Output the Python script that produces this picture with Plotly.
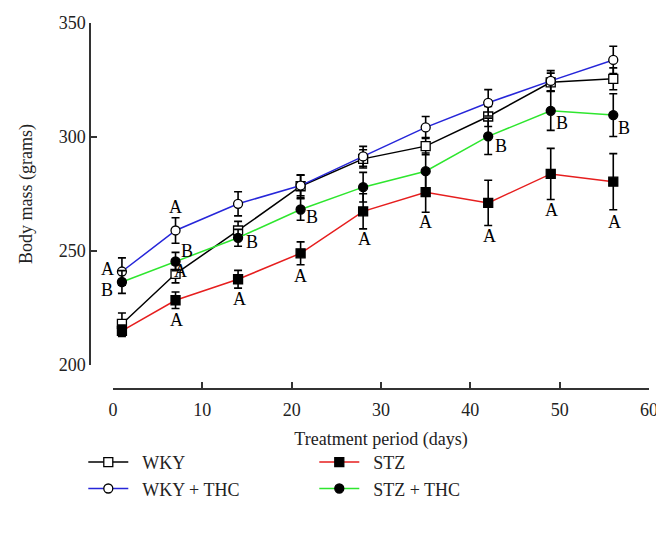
import plotly.graph_objects as go

# ---- data ----
days = [1, 7, 14, 21, 28, 35, 42, 49, 56]

wky = [218, 240, 259, 278.4, 290.4, 296, 309, 324, 325.5]
wky_err = [4.8, 4, 4, 5, 4, 3.8, 4.4, 4, 4.8]

wky_thc = [241, 259, 270.7, 278.7, 291.5, 304.2, 315, 324.6, 333.8]
wky_thc_err = [6, 5.6, 5.3, 4.5, 4.4, 4.8, 5.8, 4.5, 6]

stz = [215, 228.4, 237.6, 249, 267.4, 275.8, 271.1, 283.8, 280.4]
stz_err = [2.5, 3.6, 3.9, 5, 7.7, 8.8, 9.9, 11.2, 12.3]

stz_thc = [236.4, 245.4, 255.8, 268.2, 278, 285, 300.3, 311.5, 309.6]
stz_thc_err = [5, 4, 3.7, 4.7, 6.5, 8, 8, 8.6, 9.4]

series_names = ["WKY", "WKY + THC", "STZ", "STZ + THC"]

x_ticks = [0, 10, 20, 30, 40, 50, 60]
y_ticks = [200, 250, 300, 350]

# significance letters: (series index, day index, letter)
letter_series = [1, 3, 1, 0, 3, 2, 3, 2, 3, 2, 2, 2, 3, 2, 3, 2, 3, 2]
letter_day_idx = [0, 0, 1, 1, 1, 1, 2, 2, 3, 3, 4, 5, 6, 6, 7, 7, 8, 8]
letter_text = ["A", "B", "A", "A", "B", "A", "B", "A", "B", "A", "A", "A", "B", "A", "B", "A", "B", "A"]

# ---- styling / placement ----
letter_dx = [-14, -15, 0, 5, 11, 1, 14, 1, 11, 0, 1, 0, 13, 1, 11, 1, 11, 1]
letter_dy = [3, -8, 23, 3, 10, -20, -4, -20, -7, -23, -28, -30, -10, -33, -12, -36, -13, -40]

FONT = "Liberation Serif, Times New Roman, serif"
vals = [wky, wky_thc, stz, stz_thc]
errs = [wky_err, wky_thc_err, stz_err, stz_thc_err]
line_colors = ["#000000", "#2626d9", "#e61e1e", "#2ee62e"]
symbols = ["square", "circle", "square", "circle"]
fills = ["white", "white", "black", "black"]
ranks = [1, 3, 2, 4]

fig = go.Figure()
for i in range(4):
    fig.add_trace(go.Scatter(
        x=days, y=vals[i], name="\u00a0\u00a0" + series_names[i], mode="lines+markers",
        line=dict(color=line_colors[i], width=1.5),
        marker=dict(symbol=symbols[i], size=9,
                    color=fills[i], line=dict(color="black", width=1.3)),
        error_y=dict(type="data", array=errs[i], visible=True,
                     color="black", thickness=1.6, width=4),
        legendrank=ranks[i],
        cliponaxis=False,
    ))

for s, d, t, dx, dy in zip(letter_series, letter_day_idx, letter_text, letter_dx, letter_dy):
    fig.add_annotation(x=days[d], y=vals[s][d], text=t, showarrow=False,
                       xshift=dx, yshift=dy, xanchor="center", yanchor="middle",
                       font=dict(family=FONT, size=18, color="black"))

OFF = 8  # page body margin in the browser
W, H = 664 - OFF, 537 - OFF
L, R, T, B = 90 - OFF, 23 - OFF, 23 - OFF, 148
pw = W - L - R
ph = H - T - B
x0_px = 113 - OFF
y200_px = 365 - OFF

fig.update_layout(
    width=W, height=H,
    margin=dict(l=L, r=R, t=T, b=B, autoexpand=False),
    paper_bgcolor="white", plot_bgcolor="white",
    font=dict(family=FONT, size=17, color="#222"),
    showlegend=True,
    legend=dict(orientation="h", x=-0.012, xanchor="left", y=-0.15, yanchor="top",
                entrywidth=176, entrywidthmode="pixels",
                font=dict(family=FONT, size=18, color="#222"),
                itemwidth=40, tracegroupgap=0, bgcolor="rgba(0,0,0,0)"),
    xaxis=dict(range=[0, 60], domain=[(x0_px - L) / pw, 1.0], anchor="free", position=0,
               tickvals=x_ticks, ticks="inside", ticklen=6, tickwidth=1.5,
               tickcolor="#333", showline=True, linecolor="#333", linewidth=1.5,
               showgrid=False, zeroline=False, automargin=False,
               ticklabelstandoff=5,
               tickfont=dict(family=FONT, size=18, color="#222"),
               title=dict(text="Treatment period (days)", standoff=12,
                          font=dict(family=FONT, size=18, color="#222"))),
    yaxis=dict(range=[200, 350], domain=[(H - B - y200_px) / ph, 1.0], anchor="free", position=0,
               tickvals=y_ticks, ticks="inside", ticklen=6, tickwidth=1.5,
               tickcolor="#333", showline=True, linecolor="#333", linewidth=1.5,
               showgrid=False, zeroline=False, automargin=False,
               tickfont=dict(family=FONT, size=18, color="#222"),
               title=dict(text="Body mass (grams)", standoff=20,
                          font=dict(family=FONT, size=18, color="#222"))),
)

fig.write_html("out.html")
